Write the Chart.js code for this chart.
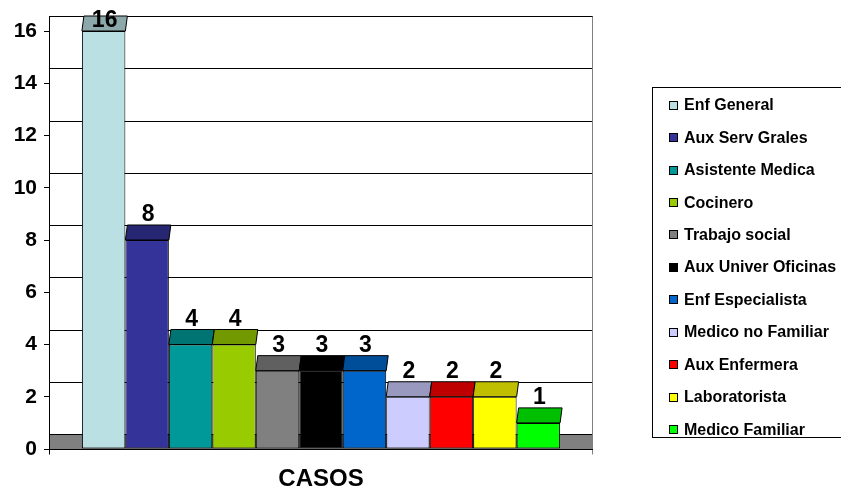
<!DOCTYPE html>
<html>
<head>
<meta charset="utf-8">
<script src="https://cdn.jsdelivr.net/npm/chart.js@4.4.1/dist/chart.umd.min.js"></script>
<style>
  html, body { margin:0; padding:0; background:#fff; overflow:hidden; }
  #wrap { position:relative; width:841px; height:495px; }
  #grafico { position:absolute; left:0; top:0; }
  #leyenda {
    position:absolute; left:652px; top:87px; width:200px; height:351px;
    border:1px solid #000; box-sizing:border-box; padding-top:1px;
    font-family: Arial, "Liberation Sans", sans-serif; font-weight:bold; font-size:16px; color:#000;
  }
  .item { height:32.45px; display:flex; align-items:center; white-space:nowrap; }
  .cuadro { width:9px; height:9px; box-sizing:border-box; border:1px solid #000; margin-left:16px; margin-right:6px; }
</style>
</head>
<body>
<div id="wrap">
  <canvas id="grafico" width="841" height="495"></canvas>
  <div id="leyenda"></div>
</div>
<script>
// Datos
const categorias = ['CASOS'];
const puestos = ['Enf General','Aux Serv Grales','Asistente Medica','Cocinero','Trabajo social',
  'Aux Univer Oficinas','Enf Especialista','Medico no Familiar','Aux Enfermera','Laboratorista','Medico Familiar'];
const casos = [16, 8, 4, 4, 3, 3, 3, 2, 2, 2, 1];
const colores = ['#BAE0E3','#333399','#009999','#99CC00','#808080',
  '#000000','#0066CC','#CCCCFF','#FF0000','#FFFF00','#00FF00'];
const ticksY = [0, 2, 4, 6, 8, 10, 12, 14, 16];

const FUENTE = 'Arial, "Liberation Sans", sans-serif';
const PROF = 15;   // profundidad 3D
const DX = 2;

function oscurecer(hex, f){
  const n = parseInt(hex.slice(1),16);
  const r = Math.round(((n>>16)&255)*f), g = Math.round(((n>>8)&255)*f), b = Math.round((n&255)*f);
  return `rgb(${r},${g},${b})`;
}

// fondo 3D: pared, rejilla, piso y caras superiores
const efecto3D = {
  id:'efecto3D',
  beforeDatasetsDraw(chart){
    const {ctx, chartArea:a, scales:{y}} = chart;
    const y0 = y.getPixelForValue(0);
    ctx.save();
    ctx.lineWidth = 1;
    // rejilla en la pared del fondo
    ctx.strokeStyle = '#000';
    ticksY.forEach(v=>{
      if(v===0) return;
      const yy = Math.round(y.getPixelForValue(v) - PROF) + 0.5;
      ctx.beginPath(); ctx.moveTo(a.left, yy); ctx.lineTo(a.right, yy); ctx.stroke();
    });
    // piso
    const yb = Math.round(y0 - PROF) + 0.5, yf = Math.round(y0) + 0.5;
    ctx.fillStyle = '#808080';
    ctx.fillRect(a.left, yb, a.right - a.left, yf - yb);
    ctx.beginPath(); ctx.moveTo(a.left, yb); ctx.lineTo(a.right, yb); ctx.stroke();
    // paredes
    const top = Math.round(y.getPixelForValue(16) - PROF) + 0.5;
    ctx.beginPath(); ctx.moveTo(Math.round(a.left)+0.5, top); ctx.lineTo(Math.round(a.left)+0.5, yf + 5); ctx.stroke();
    ctx.strokeStyle = '#808080';
    ctx.beginPath(); ctx.moveTo(Math.round(a.right)-0.5, top); ctx.lineTo(Math.round(a.right)-0.5, yf + 5); ctx.stroke();
    ctx.strokeStyle = '#000';
    ctx.beginPath(); ctx.moveTo(a.left, yf); ctx.lineTo(a.right, yf); ctx.stroke();
    // caras superiores de las barras
    chart.data.datasets.forEach((ds, i)=>{
      const bar = chart.getDatasetMeta(i).data[0];
      const x0 = bar.x - bar.width/2, x1 = bar.x + bar.width/2, t = bar.y;
      ctx.beginPath();
      ctx.moveTo(x0, t); ctx.lineTo(x1, t); ctx.lineTo(x1 + DX, t - PROF); ctx.lineTo(x0 + DX, t - PROF); ctx.closePath();
      ctx.fillStyle = oscurecer(colores[i], 0.75);
      ctx.fill(); ctx.stroke();
    });
    ctx.restore();
  },
  afterDatasetsDraw(chart){
    const {ctx} = chart;
    ctx.save();
    ctx.font = `bold 23px ${FUENTE}`;
    ctx.fillStyle = '#000';
    ctx.textAlign = 'center';
    ctx.textBaseline = 'alphabetic';
    chart.data.datasets.forEach((ds, i)=>{
      const bar = chart.getDatasetMeta(i).data[0];
      let yb = bar.y - PROF - 4;
      if(yb < 27) yb = 27;
      ctx.fillText(String(ds.data[0]), bar.x + DX/2, yb);
    });
    ctx.restore();
  }
};

const datasets = puestos.map((p, i)=>({
  label: p,
  data: [casos[i]],
  backgroundColor: colores[i],
  borderColor: '#000',
  borderWidth: 1,
  borderSkipped: false,
  barPercentage: 1,
  categoryPercentage: 0.879
}));

new Chart(document.getElementById('grafico'), {
  type:'bar',
  data:{ labels: categorias, datasets },
  plugins:[efecto3D],
  options:{
    responsive:false,
    animation:false,
    layout:{ padding:{ top:31, right:248, left:0, bottom:0 } },
    plugins:{ legend:{ display:false }, tooltip:{ enabled:false } },
    scales:{
      x:{
        grid:{ display:false, drawTicks:false },
        border:{ display:false },
        ticks:{ color:'#000', font:{ family:FUENTE, size:24, weight:'bold' }, padding:16 },
        afterFit(s){ s.height = 46; }
      },
      y:{
        min:0, max:16,
        afterBuildTicks(s){ s.ticks = ticksY.map(v=>({value:v})); },
        grid:{ drawOnChartArea:false, drawTicks:true, tickLength:5, color:'#000' },
        border:{ display:false },
        ticks:{ color:'#000', font:{ family:FUENTE, size:21, weight:'bold' }, padding:7 },
        afterFit(s){ s.width = 49; }
      }
    }
  }
});

// leyenda en HTML
const ley = document.getElementById('leyenda');
puestos.forEach((p, i)=>{
  const d = document.createElement('div');
  d.className = 'item';
  d.innerHTML = `<span class="cuadro" style="background:${colores[i]}"></span><span>${p}</span>`;
  ley.appendChild(d);
});
</script>
</body>
</html>
